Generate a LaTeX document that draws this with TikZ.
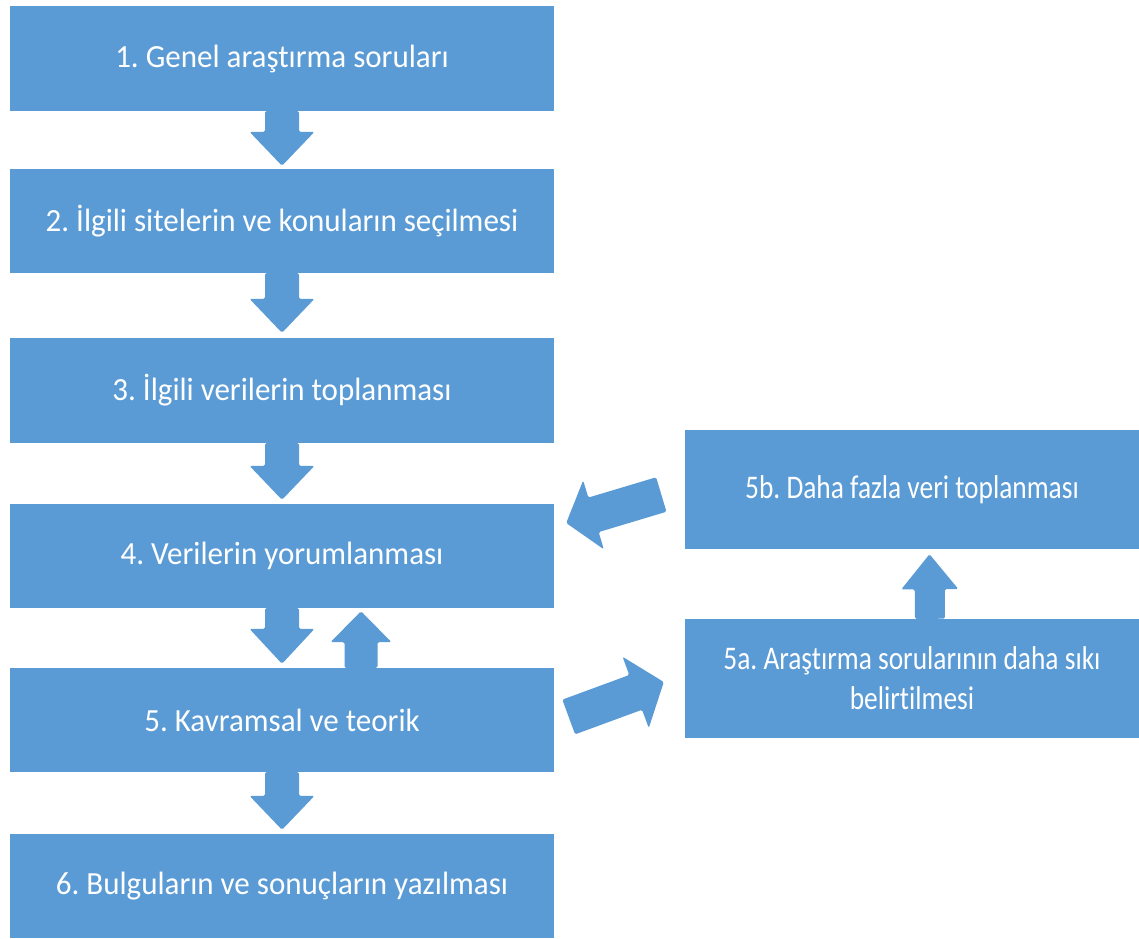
\documentclass[tikz,border=0pt]{standalone}
\usepackage{fontspec}
\setmainfont{Carlito}[Ligatures=NoCommon]
\newfontfamily\leftfont{Carlito}[Ligatures=NoCommon, FakeStretch=0.96]
\newfontfamily\rightfont{Carlito}[Ligatures=NoCommon, FakeStretch=0.83]
\usetikzlibrary{calc}
\definecolor{boxblue}{HTML}{5B9BD5}
\tikzset{
  stepbox/.style={rectangle, fill=boxblue, inner sep=0pt, text=white, align=center,
    font=\frenchspacing\leftfont\fontsize{32.3}{38}\selectfont},
  sidebox/.style={stepbox, font=\frenchspacing\rightfont\fontsize{33}{40}\selectfont},
  arrowfill/.style={fill=boxblue, rounded corners=1.5pt}
}
% #1 start, #2 tip, #3 shaft half width, #4 head half width, #5 head length
\newcommand\blockarrow[5]{%
  \coordinate (hb) at ($(#2)!#5!(#1)$);
  \fill[arrowfill] ($(#1)!#3!90:(#2)$) -- ($(hb)!#3!90:(#2)$) -- ($(hb)!#4!90:(#2)$)
    -- (#2) -- ($(hb)!#4!-90:(#2)$) -- ($(hb)!#3!-90:(#2)$) -- ($(#1)!#3!-90:(#2)$) -- cycle;
}
\begin{document}
\begin{tikzpicture}[x=1pt,y=-1pt]
\useasboundingbox (0,0) rectangle (1139,938);
\node[stepbox, minimum width=544pt, minimum height=105pt] (b1) at (282,58.5) {1. Genel araştırma soruları};
\node[stepbox, minimum width=544pt, minimum height=104pt] (b2) at (282,221) {2. İlgili sitelerin ve konuların seçilmesi};
\node[stepbox, minimum width=544pt, minimum height=105pt] (b3) at (282,390.5) {3. İlgili verilerin toplanması};
\node[stepbox, minimum width=544pt, minimum height=104pt] (b4) at (282,556) {4. Verilerin yorumlanması};
\node[stepbox, minimum width=544pt, minimum height=104pt] (b5) at (282,720) {5. Kavramsal ve teorik};
\node[stepbox, minimum width=544pt, minimum height=104pt] (b6) at (282,886) {6. Bulguların ve sonuçların yazılması};
\node[sidebox, minimum width=454pt, minimum height=119pt] (b5b) at (912,489.5) {5b. Daha fazla veri toplanması};
\node[sidebox, minimum width=454pt, minimum height=119pt] (b5a) at (912,678.5) {5a. Araştırma sorularının daha sıkı\\belirtilmesi};

% down arrows
\coordinate (t1) at ($(b2.north)+(0,-3)$);
\blockarrow{b1.south}{t1}{17pt}{32.5pt}{34pt}
\coordinate (t2) at ($(b3.north)+(0,-5)$);
\blockarrow{b2.south}{t2}{17pt}{32.5pt}{34pt}
\coordinate (t3) at ($(b4.north)+(0,-4)$);
\blockarrow{b3.south}{t3}{17pt}{32.5pt}{34pt}
\coordinate (t4) at ($(b5.north)+(0,-4)$);
\blockarrow{b4.south}{t4}{17pt}{32.5pt}{35pt}
\coordinate (t5) at ($(b6.north)+(0,-4)$);
\blockarrow{b5.south}{t5}{17pt}{32.5pt}{34pt}

% up arrow 5 -> 4
\coordinate (s6) at ($(b5.north)+(79,0)$);
\coordinate (t6) at ($(b4.south)+(79,3)$);
\blockarrow{s6}{t6}{16.5pt}{30.5pt}{31pt}

% 5 -> 5a
\coordinate (s7) at ($(b5.east)+(14.5,-3)$);
\coordinate (t7) at ($(b5a.west)+(-21,3.5)$);
\blockarrow{s7}{t7}{18.5pt}{38pt}{30pt}

% 5a -> 5b
\coordinate (s8) at ($(b5a.north)+(18,0)$);
\coordinate (t8) at ($(b5b.south)+(17.5,5)$);
\blockarrow{s8}{t8}{15pt}{28.5pt}{35pt}

% 5b -> 4
\coordinate (s9) at ($(b5b.west)+(-23.5,5)$);
\coordinate (t9) at ($(b4.east)+(12,-33)$);
\blockarrow{s9}{t9}{18pt}{36pt}{28.5pt}
\end{tikzpicture}
\end{document}
